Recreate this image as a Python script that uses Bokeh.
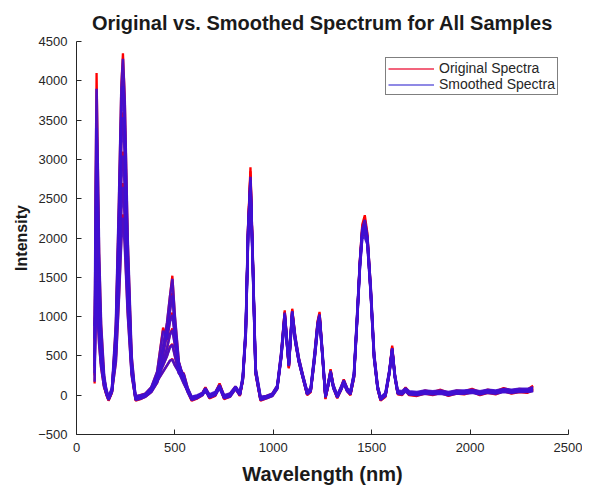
from bokeh.plotting import figure
from bokeh.models import Legend, LegendItem, FixedTicker
from bokeh.embed import file_html
from bokeh.resources import INLINE

# Wavelength grid (nm)
W = [92, 97, 102, 108, 115, 125, 140, 152, 163, 180,
     200, 215, 228, 236, 245, 260, 280, 300, 325, 350,
     380, 410, 440, 460, 475, 487, 500, 520, 545, 565,
     585, 615, 640, 655, 675, 705, 727, 750, 780, 808,
     830, 845, 860, 872, 884, 895, 910, 935, 965, 995,
     1020, 1040, 1058, 1079, 1096, 1112, 1130, 1150, 1172, 1190,
     1210, 1225, 1235, 1248, 1265, 1280, 1291, 1305, 1325, 1345,
     1358, 1375, 1392, 1410, 1425, 1440, 1452, 1465, 1478, 1495,
     1512, 1530, 1545, 1570, 1590, 1604, 1618, 1632, 1655, 1672,
     1690, 1730, 1770, 1810, 1850, 1890, 1930, 1970, 2010, 2050,
     2090, 2130, 2170, 2210, 2250, 2290, 2320]

# Original spectra (intensity)
O1 = [450, 2600, 4100, 3000, 1800, 900, 250, 40, -50, 60,
      900, 2400, 3950, 4350, 3800, 2000, 500, -40, -20, 10,
      90, 260, 620, 920, 1260, 1520, 1000, 420, 210, 80,
      -40, -20, 20, 90, -10, 20, 140, -20, 10, 100,
      10, 210, 820, 2150, 2900, 1850, 320, -40, -20, 10,
      110, 520, 1060, 390, 1090, 720, 460, 250, 30, 70,
      520, 920, 1040, 600, -20, 160, 320, 120, -20, 100,
      190, 80, 30, 260, 960, 1720, 2170, 2290, 2060, 1360,
      520, 110, -50, 10, 310, 615, 250, 40, 30, 90,
      30, 20, 50, 30, 60, 20, 50, 40, 70, 30,
      60, 40, 80, 50, 70, 60, 110]
O2 = [250, 2200, 3540, 2600, 1500, 700, 180, 20, -60, 40,
      800, 2200, 3650, 4000, 3500, 1800, 420, -60, -40, -10,
      60, 200, 520, 780, 1080, 1300, 860, 360, 260, 60,
      -60, -30, 10, 80, -30, 0, 120, -40, -10, 90,
      0, 190, 780, 2080, 2850, 1800, 290, -60, -30, 0,
      90, 490, 1020, 350, 1050, 690, 430, 230, 10, 50,
      480, 880, 1000, 560, -40, 140, 300, 100, -30, 80,
      170, 60, 10, 230, 920, 1660, 2110, 2220, 2000, 1310,
      480, 90, -60, -10, 290, 590, 230, 20, 10, 70,
      10, 0, 30, 10, 40, 0, 30, 20, 50, 10,
      40, 20, 60, 30, 50, 40, 80]
O3 = [700, 1700, 2500, 2000, 1200, 600, 200, 60, -30, 80,
      700, 1900, 3250, 3600, 3100, 1600, 380, -20, 0, 20,
      100, 300, 860, 700, 950, 1050, 760, 300, 280, 90,
      -30, -10, 30, 100, 0, 30, 150, -10, 20, 110,
      20, 230, 850, 2180, 2800, 1820, 340, -30, -10, 20,
      120, 540, 1080, 400, 1100, 740, 470, 260, 40, 80,
      540, 940, 1060, 610, -10, 170, 330, 130, -10, 110,
      200, 90, 40, 270, 980, 1700, 2120, 2200, 2020, 1380,
      540, 120, -40, 20, 320, 630, 260, 50, 40, 100,
      40, 30, 60, 40, 70, 30, 60, 50, 80, 40,
      70, 50, 90, 60, 80, 70, 120]
O4 = [150, 1300, 1800, 1500, 900, 450, 120, 0, -70, 30,
      600, 1700, 2800, 3100, 2700, 1400, 320, -70, -50, -20,
      40, 160, 420, 600, 780, 850, 640, 420, 180, 40,
      -70, -40, 0, 70, -40, -10, 110, -50, -20, 80,
      -10, 180, 760, 2050, 2750, 1760, 270, -70, -40, -10,
      80, 470, 1000, 340, 1030, 670, 420, 220, 0, 40,
      460, 860, 990, 550, -50, 130, 290, 90, -40, 70,
      160, 50, 0, 220, 900, 1640, 2060, 2150, 1960, 1290,
      470, 80, -70, -20, 280, 580, 220, 10, 0, 60,
      0, -10, 20, 0, 30, -10, 20, 10, 40, 0,
      30, 10, 50, 20, 40, 30, 60]
O5 = [900, 1100, 1500, 1200, 800, 400, 150, 30, -40, 60,
      500, 1500, 2400, 2700, 2300, 1200, 300, -30, -10, 0,
      70, 230, 380, 500, 620, 650, 500, 280, 220, 60,
      -40, -20, 20, 90, -20, 10, 130, -30, 0, 100,
      10, 200, 800, 2120, 2700, 1780, 300, -50, -20, 10,
      100, 500, 1040, 370, 1070, 700, 440, 240, 20, 60,
      500, 900, 1020, 580, -30, 150, 310, 110, -20, 90,
      180, 70, 20, 250, 940, 1680, 2090, 2100, 1980, 1330,
      500, 100, -50, 0, 300, 600, 240, 30, 20, 80,
      20, 10, 40, 20, 50, 10, 40, 30, 60, 20,
      50, 30, 70, 40, 60, 50, 90]
O6 = [350, 900, 1200, 1000, 650, 350, 100, 10, -60, 40,
      420, 1200, 2000, 2300, 1950, 1050, 260, -50, -30, -10,
      50, 180, 300, 380, 440, 460, 380, 300, 150, 50,
      -50, -30, 10, 80, -30, 0, 120, -40, -10, 90,
      0, 190, 770, 2060, 2650, 1740, 280, -60, -30, 0,
      90, 480, 1010, 350, 1040, 680, 430, 230, 10, 50,
      470, 870, 1000, 560, -40, 140, 300, 100, -30, 80,
      170, 60, 10, 230, 910, 1650, 2040, 2050, 1940, 1300,
      480, 90, -60, -10, 290, 590, 230, 20, 10, 70,
      10, 0, 30, 10, 40, 0, 30, 20, 50, 10,
      40, 20, 60, 30, 50, 40, 70]

# Smoothed spectra (intensity)
S1 = [480, 2500, 3900, 2950, 1800, 900, 260, 50, -40, 70,
      900, 2400, 3900, 4280, 3750, 2000, 500, -30, -20, 10,
      90, 260, 620, 920, 1250, 1480, 1000, 420, 210, 80,
      -30, -10, 20, 80, 0, 30, 120, -10, 10, 100,
      20, 220, 840, 2100, 2780, 1820, 330, -30, -20, 10,
      110, 520, 1030, 420, 1060, 720, 460, 250, 40, 80,
      520, 900, 1010, 600, 0, 160, 300, 120, -10, 100,
      180, 80, 40, 270, 960, 1700, 2120, 2230, 2030, 1360,
      520, 110, -40, 20, 310, 590, 250, 50, 40, 80,
      40, 30, 50, 40, 50, 30, 50, 50, 60, 40,
      60, 50, 70, 60, 70, 70, 90]
S2 = [280, 2100, 3400, 2550, 1500, 710, 190, 30, -50, 50,
      800, 2200, 3600, 3930, 3450, 1800, 420, -50, -35, -10,
      60, 200, 520, 780, 1070, 1270, 860, 360, 250, 60,
      -50, -25, 10, 70, -20, 10, 100, -30, -10, 90,
      10, 200, 790, 2040, 2740, 1770, 300, -50, -30, 0,
      90, 490, 990, 380, 1020, 690, 430, 230, 20, 60,
      480, 860, 970, 560, -20, 140, 280, 100, -20, 80,
      160, 60, 20, 240, 920, 1640, 2070, 2170, 1980, 1310,
      480, 90, -50, 0, 290, 570, 230, 30, 20, 60,
      20, 10, 30, 20, 30, 10, 30, 30, 40, 20,
      40, 30, 50, 40, 50, 50, 60]
S3 = [720, 1650, 2400, 1950, 1200, 610, 210, 70, -20, 90,
      700, 1900, 3200, 3540, 3060, 1600, 380, -10, 0, 20,
      100, 300, 820, 710, 940, 1020, 760, 310, 270, 90,
      -20, 0, 30, 90, 10, 40, 130, 0, 20, 110,
      30, 240, 860, 2130, 2700, 1790, 350, -20, -10, 20,
      120, 540, 1050, 420, 1070, 740, 470, 260, 50, 90,
      540, 920, 1030, 610, 10, 170, 310, 130, 0, 110,
      190, 90, 50, 280, 980, 1680, 2080, 2150, 2000, 1380,
      540, 120, -30, 30, 320, 600, 260, 60, 50, 90,
      50, 40, 60, 50, 60, 40, 60, 60, 70, 50,
      70, 60, 80, 70, 80, 80, 100]
S4 = [170, 1250, 1750, 1460, 900, 460, 130, 10, -60, 40,
      600, 1700, 2760, 3050, 2660, 1400, 320, -60, -45, -20,
      40, 160, 420, 600, 770, 830, 640, 410, 180, 40,
      -60, -35, 0, 60, -30, 0, 90, -40, -20, 80,
      0, 190, 770, 2010, 2650, 1730, 280, -60, -40, -10,
      80, 470, 970, 370, 1000, 670, 420, 220, 10, 50,
      460, 840, 960, 550, -30, 130, 270, 90, -30, 70,
      150, 50, 10, 230, 900, 1620, 2020, 2100, 1940, 1290,
      470, 80, -60, -10, 280, 560, 220, 20, 10, 50,
      10, 0, 20, 10, 20, 0, 20, 20, 30, 10,
      30, 20, 40, 30, 40, 40, 50]
S5 = [880, 1080, 1450, 1180, 800, 410, 160, 40, -30, 70,
      500, 1500, 2370, 2650, 2270, 1200, 300, -20, -10, 0,
      70, 230, 380, 500, 610, 640, 500, 280, 210, 60,
      -30, -10, 20, 80, -10, 20, 110, -20, 0, 100,
      20, 210, 810, 2080, 2610, 1750, 310, -40, -20, 10,
      100, 500, 1010, 400, 1040, 700, 440, 240, 30, 70,
      500, 880, 990, 580, -10, 150, 290, 110, -10, 90,
      170, 70, 30, 260, 940, 1660, 2050, 2060, 1960, 1330,
      500, 100, -40, 10, 300, 580, 240, 40, 30, 70,
      30, 20, 40, 30, 40, 20, 40, 40, 50, 30,
      50, 40, 60, 50, 60, 60, 70]
S6 = [370, 880, 1170, 980, 650, 360, 110, 20, -50, 50,
      420, 1200, 1980, 2260, 1920, 1050, 260, -40, -30, -10,
      50, 180, 300, 380, 440, 450, 380, 290, 150, 50,
      -40, -25, 10, 70, -20, 10, 100, -30, -10, 90,
      10, 200, 780, 2020, 2560, 1710, 290, -50, -30, 0,
      90, 480, 980, 380, 1010, 680, 430, 230, 20, 60,
      470, 850, 970, 560, -20, 140, 280, 100, -20, 80,
      160, 60, 20, 240, 910, 1630, 2000, 2010, 1920, 1300,
      480, 90, -50, 0, 290, 570, 230, 30, 20, 60,
      20, 10, 30, 20, 30, 10, 30, 30, 40, 20,
      40, 30, 50, 40, 50, 50, 60]

ORIGINAL = [O1, O2, O3, O4, O5, O6]
SMOOTHED = [S1, S2, S3, S4, S5, S6]

X_TICKS = [0, 500, 1000, 1500, 2000, 2500]
Y_TICKS = [-500, 0, 500, 1000, 1500, 2000, 2500, 3000, 3500, 4000, 4500]

TITLE = "Original vs. Smoothed Spectrum for All Samples"
X_LABEL = "Wavelength (nm)"
Y_LABEL = "Intensity"
LEGEND_LABELS = ["Original Spectra", "Smoothed Spectra"]

FONT = "Liberation Sans"
DARK = "#262626"

p = figure(width=582, height=488, output_backend="svg", toolbar_location=None,
           x_range=(0, 2500), y_range=(-500, 4500),
           min_border_left=76, min_border_right=14,
           min_border_top=41, min_border_bottom=54)

p.title.text = TITLE
p.title.align = "center"
p.title.text_font = FONT
p.title.text_font_style = "bold"
p.title.text_font_size = "20px"
p.title.text_color = "#1a1a1a"
p.title.standoff = 15

p.outline_line_color = None
p.xgrid.grid_line_color = None
p.ygrid.grid_line_color = None
p.background_fill_color = "white"
p.border_fill_color = "white"

for ax, ticks in ((p.xaxis[0], X_TICKS), (p.yaxis[0], Y_TICKS)):
    ax.ticker = FixedTicker(ticks=ticks)
    ax.major_tick_in = 5
    ax.major_tick_out = 0
    ax.minor_tick_line_color = None
    ax.axis_line_color = DARK
    ax.major_tick_line_color = DARK
    ax.major_label_text_font = FONT
    ax.major_label_text_font_size = "13px"
    ax.major_label_text_color = DARK
    ax.axis_label_text_font = FONT
    ax.axis_label_text_font_style = "bold"
    ax.axis_label_text_color = "#1a1a1a"

p.xaxis.major_label_standoff = 8
p.xaxis.axis_label_standoff = 8
p.yaxis.major_label_standoff = 9
p.xaxis.axis_label = X_LABEL
p.xaxis.axis_label_text_font_size = "20px"
p.yaxis.axis_label = Y_LABEL
p.yaxis.axis_label_text_font_size = "16px"

p.multi_line([W] * len(ORIGINAL), ORIGINAL, line_color="#ff0000",
             line_width=2.3, line_alpha=1.0)
p.multi_line([W] * len(SMOOTHED), SMOOTHED, line_color="#3f0fd2",
             line_width=2.6, line_alpha=0.9)

# thin proxies for the legend glyphs (a single data point each, draws nothing in the plot)
leg_orig = p.line(W[:1], O1[:1], line_color="#ee3050", line_width=1.5)
leg_sm = p.line(W[:1], S1[:1], line_color="#6a62dc", line_width=1.5)

legend = Legend(items=[LegendItem(label=LEGEND_LABELS[0], renderers=[leg_orig]),
                       LegendItem(label=LEGEND_LABELS[1], renderers=[leg_sm])],
                location=(309, 339))
legend.border_line_color = "#000000"
legend.border_line_width = 1
legend.background_fill_color = "white"
legend.background_fill_alpha = 1.0
legend.padding = 2
legend.spacing = 0
legend.margin = 0
legend.glyph_width = 46
legend.glyph_height = 13
legend.label_height = 13
legend.label_standoff = 5
legend.label_text_font = FONT
legend.label_text_font_size = "14px"
legend.label_text_color = DARK
p.add_layout(legend)

open("out.html", "w").write(file_html(p, INLINE))
